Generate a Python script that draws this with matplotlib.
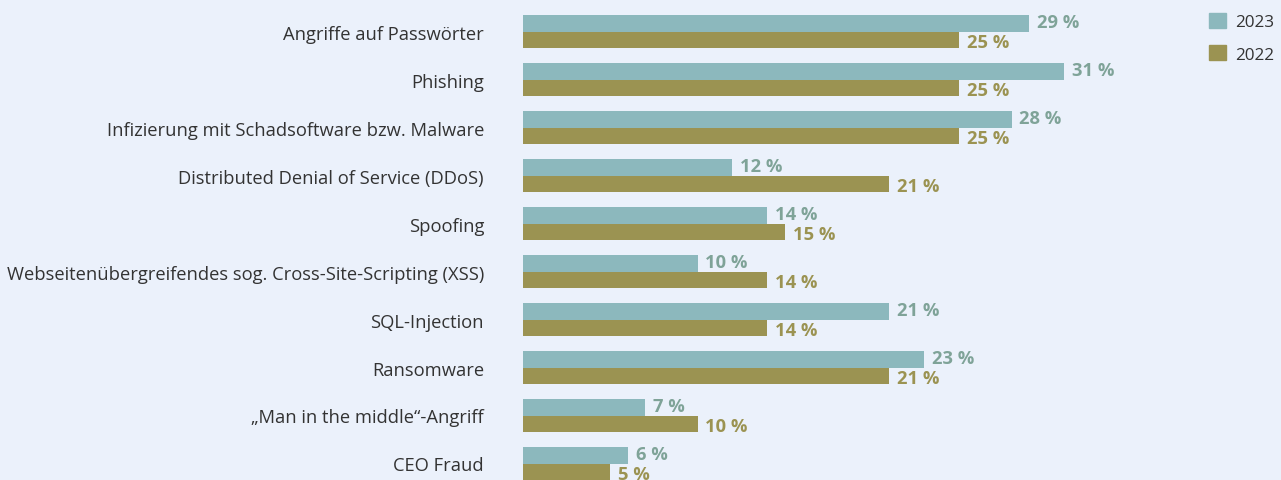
import numpy as np
import matplotlib.pyplot as plt
from matplotlib.patches import Patch

categories = [
    "Angriffe auf Passwörter",
    "Phishing",
    "Infizierung mit Schadsoftware bzw. Malware",
    "Distributed Denial of Service (DDoS)",
    "Spoofing",
    "Webseitenübergreifendes sog. Cross-Site-Scripting (XSS)",
    "SQL-Injection",
    "Ransomware",
    "\u201eMan in the middle\u201c-Angriff",
    "CEO Fraud",
]
values_2023 = [29, 31, 28, 12, 14, 10, 21, 23, 7, 6]
values_2022 = [25, 25, 25, 21, 15, 14, 14, 21, 10, 5]

BG = "#ebf1fb"
C23 = "#8cb8bd"
C22 = "#9b9352"
T23 = "#7fa398"
T22 = "#9b9352"

plt.rcParams['font.family'] = ['Open Sans', 'DejaVu Sans']

W, H = 1281, 481
fig = plt.figure(figsize=(W / 100, H / 100), dpi=100, facecolor=BG)
x0 = 523
ax = fig.add_axes([x0 / W, 0, (W - x0) / W, 1], facecolor=BG)

px_per_pct = 17.45
ax.set_xlim(0, (W - x0) / px_per_pct)
row = 48.0
top = -32.5 / row
ax.set_ylim(top + H / row, top)

y = np.arange(len(categories))
h = 16.5 / row
ax.barh(y - h / 2, values_2023, height=h, color=C23, label="2023")
ax.barh(y + h / 2, values_2022, height=h, color=C22, label="2022")

px = 1 / row
for i, (a, b) in enumerate(zip(values_2023, values_2022)):
    ax.text(a + 0.45, i - h / 2 - 1 * px, f"{a} %", color=T23, fontsize=13.2,
            fontweight='bold', va='center', ha='left')
    ax.text(b + 0.45, i + h / 2 + 2 * px, f"{b} %", color=T22, fontsize=13.2,
            fontweight='bold', va='center', ha='left')
    ax.text(-39 / px_per_pct, i + 2 * px, categories[i], color="#333333", fontsize=13.2,
            va='center', ha='right', clip_on=False)

for s in ax.spines.values():
    s.set_visible(False)
ax.set_xticks([])
ax.set_yticks([])

handles = [Patch(color=C23, label="2023"), Patch(color=C22, label="2022")]
fig.legend(handles=handles, loc='upper left', bbox_to_anchor=(1209 / W, 1 - 14 / H),
           frameon=False, fontsize=12.3, handlelength=1.0, handleheight=1.0,
           handletextpad=0.5, labelspacing=0.85, borderpad=0, borderaxespad=0,
           labelcolor="#333333")

fig.savefig("out.png", dpi=100, facecolor=BG)
